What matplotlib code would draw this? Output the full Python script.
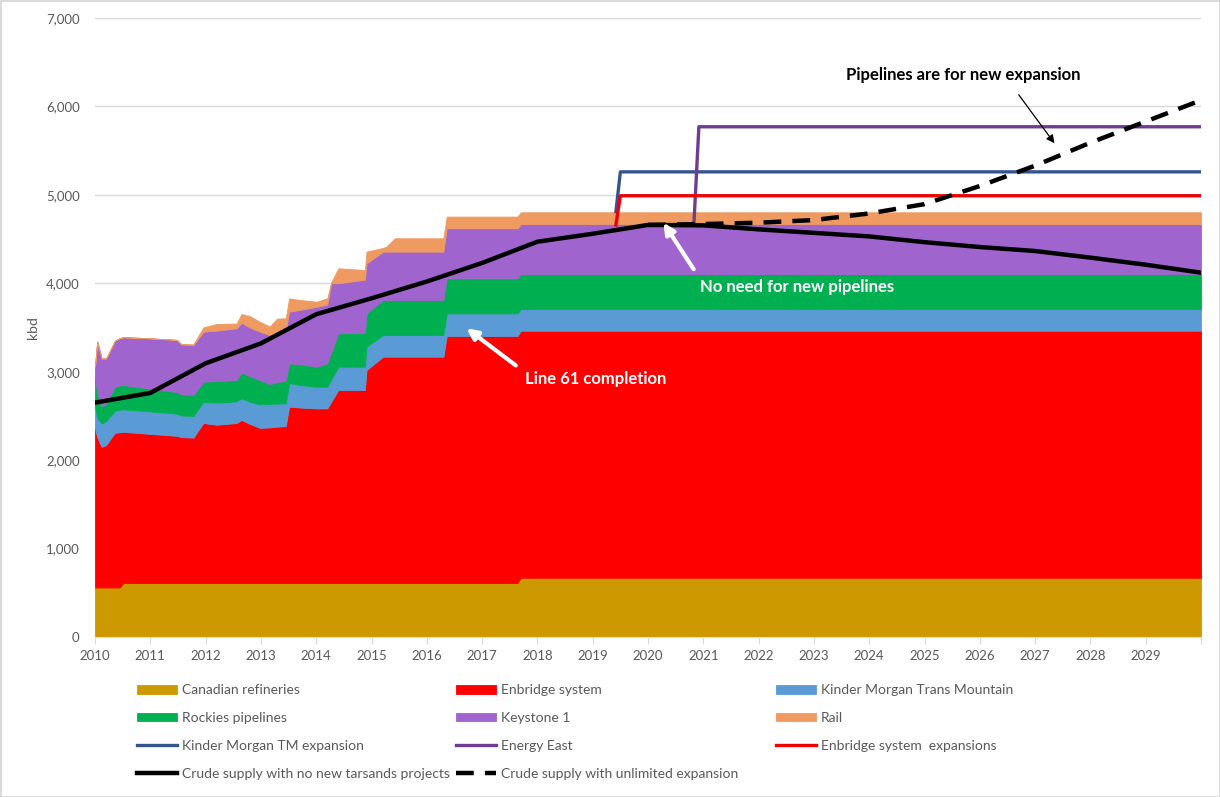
import matplotlib
matplotlib.use('Agg')
import matplotlib.pyplot as plt
from matplotlib.ticker import FuncFormatter

# time points (decimal years) for the stacked takeaway capacity
t = [2010.00, 2010.04, 2010.12, 2010.20, 2010.36, 2010.45, 2010.51, 2010.93, 2011.48, 2011.56,
     2011.78, 2011.96, 2012.20, 2012.56, 2012.65, 2012.80, 2012.98, 2013.16, 2013.29, 2013.45,
     2013.51, 2013.71, 2014.01, 2014.20, 2014.27, 2014.40, 2014.88, 2014.91, 2015.21, 2015.27,
     2015.42, 2016.30, 2016.36, 2017.64, 2017.70, 2030.00]

refineries = [560, 560, 560, 560, 560, 560, 610, 610, 610, 610,
              610, 610, 610, 610, 610, 610, 610, 610, 610, 610,
              610, 610, 610, 610, 610, 610, 610, 610, 610, 610,
              610, 610, 610, 610, 670, 670]
enbridge = [1800, 1700, 1590, 1610, 1750, 1755, 1710, 1690, 1665, 1650,
            1645, 1810, 1790, 1810, 1845, 1800, 1755, 1760, 1768, 1775,
            1994, 1985, 1975, 1975, 2048, 2183, 2183, 2409, 2560, 2560,
            2560, 2560, 2794, 2794, 2794, 2794]
kinder_morgan = [255, 220, 265, 270, 250, 255, 255, 255, 250, 245,
                 245, 240, 250, 245, 245, 250, 265, 265, 262, 257,
                 265, 255, 245, 245, 251, 264, 264, 264, 245, 245,
                 245, 245, 256, 256, 245, 245]
rockies = [330, 280, 190, 200, 270, 275, 275, 260, 245, 240,
           237, 227, 245, 241, 290, 290, 276, 225, 240, 258,
           226, 235, 227, 265, 305, 377, 383, 377, 396, 396,
           396, 396, 396, 396, 396, 396]
keystone = [115, 580, 545, 510, 520, 535, 540, 565, 590, 565,
            565, 566, 570, 585, 564, 550, 547, 555, 570, 570,
            584, 615, 678, 665, 786, 566, 600, 566, 547, 547,
            547, 547, 566, 566, 565, 565]
rail = [0, 0, 0, 0, 0, 0, 0, 0, 0, 0,
        8, 49, 75, 54, 99, 128, 113, 95, 150, 134,
        151, 111, 57, 70, 10, 170, 110, 132, 42, 57,
        151, 151, 132, 132, 133, 133]

# crude supply scenarios (annual)
years = list(range(2010, 2031))
supply_no_new = [2650, 2760, 3095, 3320, 3650, 3830, 4020, 4230, 4470, 4560, 4660,
                 4655, 4610, 4570, 4530, 4465, 4410, 4365, 4290, 4210, 4120]
years_unlim = list(range(2020, 2031))
supply_unlimited = [4660, 4670, 4685, 4715, 4790, 4895, 5100, 5330, 5590, 5830, 6070]

# proposed pipeline expansions
t_km_exp = [2019.42, 2019.50, 2030.00]
km_exp = [4810, 5260, 5260]
t_energy_east = [2020.83, 2020.92, 2030.00]
energy_east = [4670, 5770, 5770]
t_enb_exp = [2019.42, 2019.50, 2030.00]
enb_exp = [4660, 4990, 4990]

stack_labels = ['Canadian refineries', 'Enbridge system', 'Kinder Morgan Trans Mountain',
                'Rockies pipelines', 'Keystone 1', 'Rail']
stack_colors = ['#CC9900', '#FF0000', '#5B9BD5', '#00B050', '#A064CE', '#EE9A60']

plt.rcParams['font.family'] = ['Lato', 'DejaVu Sans']

fig = plt.figure(figsize=(12.2, 7.97), dpi=100, edgecolor='#D9D9D9', linewidth=2)
ax = fig.add_axes([95 / 1220, 160 / 797, 1106 / 1220, 619 / 797])

polys = ax.stackplot(t, refineries, enbridge, kinder_morgan, rockies, keystone, rail,
                     colors=stack_colors, labels=stack_labels, linewidth=0.6)
for p, c in zip(polys, stack_colors):
    p.set_edgecolor(c)

l_km, = ax.plot(t_km_exp, km_exp, color='#35548F', lw=2.4, label='Kinder Morgan TM expansion')
l_ee, = ax.plot(t_energy_east, energy_east, color='#6E3B95', lw=2.4, label='Energy East')
l_enb, = ax.plot(t_enb_exp, enb_exp, color='#EE0000', lw=2.4, label='Enbridge system  expansions')
l_no, = ax.plot(years, supply_no_new, color='black', lw=3.2,
                label='Crude supply with no new tarsands projects')
l_un, = ax.plot(years_unlim, supply_unlimited, color='black', lw=3.2, linestyle=(0, (4, 2.5)),
                label='Crude supply with unlimited expansion')

ax.set_xlim(2010, 2030)
ax.set_ylim(0, 7000)
ax.set_xticks(range(2010, 2031))
ax.set_xticklabels([str(y) for y in range(2010, 2030)] + [''])
ax.set_yticks(range(0, 7001, 1000))
ax.yaxis.set_major_formatter(FuncFormatter(lambda v, pos: f'{int(v):,}'))
ax.grid(axis='y', color='#D9D9D9', lw=1)
ax.set_axisbelow(True)
for s in ['top', 'right', 'left']:
    ax.spines[s].set_visible(False)
ax.spines['bottom'].set_color('#D9D9D9')
ax.tick_params(axis='x', colors='#D9D9D9', length=5, labelcolor='#595959', labelsize=9.5, pad=4)
ax.tick_params(axis='y', length=0, labelcolor='#595959', labelsize=9.5, pad=11)
ax.set_ylabel('kbd', color='#595959', fontsize=10, labelpad=5)

# annotations
ax.annotate('Line 61 completion', xy=(2016.72, 3491), xytext=(2017.78, 2918),
            color='white', fontsize=12, fontweight='bold', va='center', ha='left',
            arrowprops=dict(arrowstyle='-|>', color='white', lw=3, mutation_scale=16,
                            shrinkA=6, shrinkB=0, relpos=(0, 0.9)))
ax.annotate('No need for new pipelines', xy=(2020.28, 4685), xytext=(2020.94, 3958),
            color='white', fontsize=12, fontweight='bold', va='center', ha='left',
            arrowprops=dict(arrowstyle='-|>', color='white', lw=3, mutation_scale=16,
                            shrinkA=6, shrinkB=0, relpos=(0, 1)))
ax.annotate('Pipelines are for new expansion', xy=(2027.35, 5583), xytext=(2025.7, 6355),
            color='black', fontsize=12, fontweight='bold', va='center', ha='center',
            arrowprops=dict(arrowstyle='-|>', color='black', lw=0.9, mutation_scale=12,
                            shrinkA=8, shrinkB=0, relpos=(0.7, 0)))

# legend, three columns placed by hand
cols = [
    [polys[0], polys[3], l_km, l_no],
    [polys[1], polys[4], l_ee, l_un],
    [polys[2], polys[5], l_enb],
]
col_x = [137, 456, 776]
for handles, x in zip(cols, col_x):
    leg = fig.legend(handles=handles, labels=[h.get_label() for h in handles],
                     loc='upper left', bbox_to_anchor=(x / 1220, 1 - 684 / 797),
                     frameon=False, fontsize=10, handlelength=2.9, handleheight=0.6,
                     handletextpad=0.35, labelspacing=1.15, borderpad=0, borderaxespad=0)
    for txt in leg.get_texts():
        txt.set_color('#595959')

fig.savefig('out.png', dpi=100)
